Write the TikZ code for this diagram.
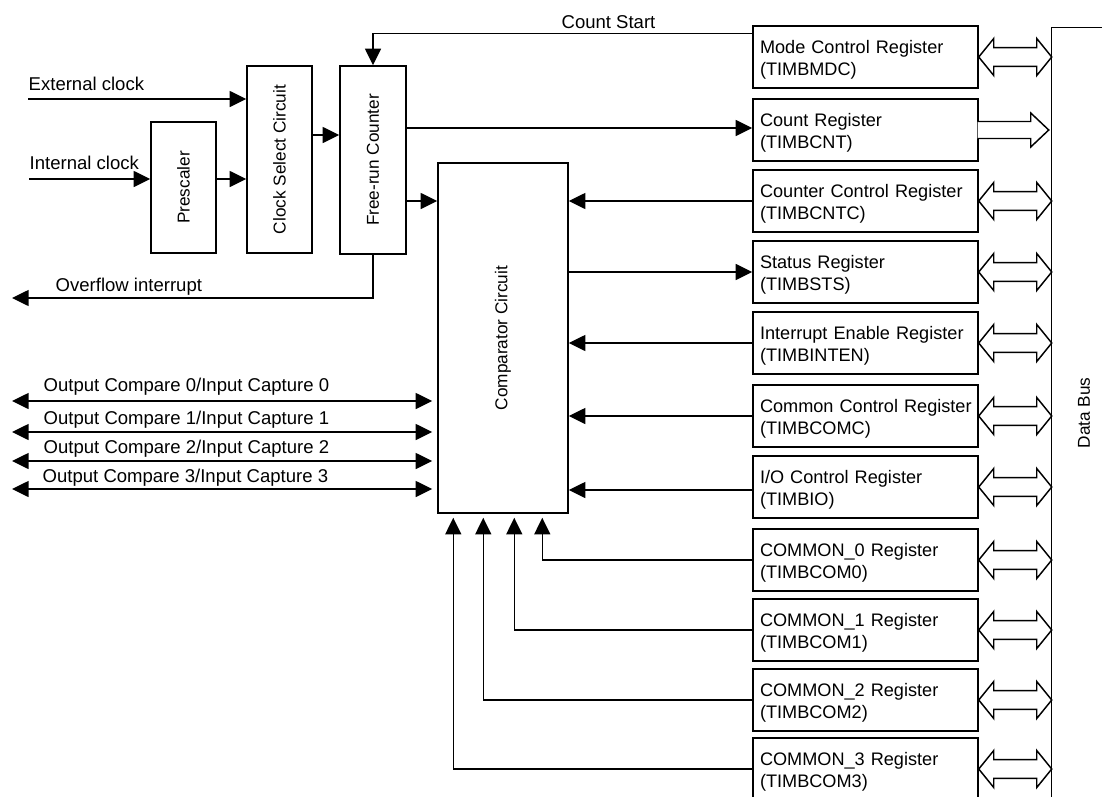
\documentclass[tikz,border=0pt]{standalone}
\usepackage{fontspec}
\setmainfont{Liberation Sans}
\usetikzlibrary{arrows.meta,calc}
\newcommand{\regtxt}[2]{\rule{0pt}{14.4pt}\mbox{#1}\\\mbox{#2}}
\begin{document}
\begin{tikzpicture}[x=0.75pt,y=-0.75pt,
  line width=1.1pt,
  arr/.style={-{Triangle[length=12.5pt,width=12pt]}},
  darr/.style={{Triangle[length=12.5pt,width=12pt]}-{Triangle[length=12.5pt,width=12pt]}},
  box/.style={draw, inner sep=0pt},
  reg/.style={draw, minimum width=168.75pt, minimum height=46.5pt, text width=158.25pt,
    inner xsep=5.25pt, inner ysep=0pt, align=left, font=\fontsize{13.6pt}{16.5pt}\selectfont},
  lbl/.style={inner sep=0pt, font=\fontsize{13.9pt}{16.5pt}\selectfont},
  vlbl/.style={inner sep=0pt, rotate=90, font=\fontsize{12.9pt}{15pt}\selectfont},
  dbl/.pic={\draw[fill=white, line join=miter] (0,0) -- (15,-18.5) -- (15,-9.3) -- (58,-9.3) -- (58,-18.5) -- (73,0) -- (58,18.5) -- (58,9.3) -- (15,9.3) -- (15,18.5) -- cycle;},
  sgl/.pic={\draw[fill=white, line join=miter] (0,-8.5) -- (53,-8.5) -- (53,-17) -- (71,0) -- (53,17) -- (53,8.5) -- (0,8.5);},
]
\useasboundingbox (0,0) rectangle (1102,796);
\clip (0,0) rectangle (1102,796);

% left blocks
\node[box, minimum width=48.75pt, minimum height=98.25pt] (pre) at (183.5,187.5) {};
\node[vlbl] (tpre) at (pre.center) {Prescaler};
\node[box, minimum width=48.75pt, minimum height=140.25pt] (csc) at (279.5,159.5) {};
\node[vlbl] (tcsc) at (csc.center) {Clock Select Circuit};
\node[box, minimum width=49.5pt, minimum height=141pt] (frc) at (373,160) {};
\node[vlbl] (tfrc) at (frc.center) {Free-run Counter};
\node[box, minimum width=97.5pt, minimum height=262.5pt] (cmp) at (503,338) {};
\node[vlbl] (tcmp) at (cmp.center) {Comparator Circuit};

% registers
\node[reg] (mdc) at (865.5,57) {\regtxt{Mode Control Register}{(TIMBMDC)}};
\node[reg] (cnt) at (865.5,130) {\regtxt{Count Register}{(TIMBCNT)}};
\node[reg] (cntc) at (865.5,201) {\regtxt{Counter Control Register}{(TIMBCNTC)}};
\node[reg] (sts) at (865.5,272) {\regtxt{Status Register}{(TIMBSTS)}};
\node[reg] (inten) at (865.5,343) {\regtxt{Interrupt Enable Register}{(TIMBINTEN)}};
\node[reg] (comc) at (865.5,416) {\regtxt{Common Control Register}{(TIMBCOMC)}};
\node[reg] (io) at (865.5,487) {\regtxt{I/O Control Register}{(TIMBIO)}};
\node[reg] (c0) at (865.5,560) {\regtxt{COMMON\_0 Register}{(TIMBCOM0)}};
\node[reg] (c1) at (865.5,630) {\regtxt{COMMON\_1 Register}{(TIMBCOM1)}};
\node[reg] (c2) at (865.5,700) {\regtxt{COMMON\_2 Register}{(TIMBCOM2)}};
\node[reg] (c3) at (865.5,769) {\regtxt{COMMON\_3 Register}{(TIMBCOM3)}};

% data bus
\node[draw, anchor=north west, minimum width=112.5pt, minimum height=600pt, inner sep=0pt] (bus) at (1051,27) {};
\node[vlbl] (tbus) at (1084,413) {Data Bus};

% bus arrows
\foreach \r in {mdc,cntc,sts,inten,comc,io,c0,c1,c2,c3} {
  \pic at (\r.east) {dbl};
}
\pic at ($(cnt.east)+(-1,0)$) {sgl};

% free ends
\coordinate (ext) at (28,99);
\coordinate (int) at (29,179);
\coordinate (ovf) at (12,298);
\coordinate (o0) at (12,401);
\coordinate (o1) at (12,432);
\coordinate (o2) at (12,461);
\coordinate (o3) at (12,489);

% texts
\node[lbl, anchor=base] (tcs) at (608.5,28) {Count Start};
\node[lbl, anchor=base west] (text) at (28,90) {External clock};
\node[lbl, anchor=base west] (tint) at (29,169) {Internal clock};
\node[lbl, anchor=base west] (tovf) at (55,291) {Overflow interrupt};
\node[lbl, anchor=base west] (to0) at (43,391) {Output Compare 0/Input Capture 0};
\node[lbl, anchor=base west] (to1) at (43,424) {Output Compare 1/Input Capture 1};
\node[lbl, anchor=base west] (to2) at (43,453) {Output Compare 2/Input Capture 2};
\node[lbl, anchor=base west] (to3) at (42,482) {Output Compare 3/Input Capture 3};

% connectors
\draw[arr] ($(mdc.north west)+(0,8)$) -| (frc.north);
\draw[arr] (ext) -- (csc.west |- ext);
\draw[arr] (int) -- (pre.west |- int);
\draw[arr] (pre.east |- int) -- (csc.west |- int);
\draw[arr] (csc.east |- 0,135) -- (frc.west |- 0,135);
\draw[arr] (frc.east |- 0,128) -- (cnt.west |- 0,128);
\draw[arr] (frc.east |- cntc.west) -- (cmp.west |- cntc.west);
\draw[arr] (frc.south) |- (ovf);

\draw[arr] (cntc.west) -- (cmp.east |- cntc.west);
\draw[arr] (cmp.east |- sts.west) -- (sts.west);
\draw[arr] (inten.west) -- (cmp.east |- inten.west);
\draw[arr] (comc.west) -- (cmp.east |- comc.west);
\draw[arr] (io.west |- 0,490) -- (cmp.east |- 0,490);

\draw[arr, shorten >=3pt] (c0.west) -| ($(cmp.south west)+(105,0)$);
\draw[arr, shorten >=3pt] (c1.west) -| ($(cmp.south west)+(77,0)$);
\draw[arr, shorten >=3pt] (c2.west) -| ($(cmp.south west)+(46,0)$);
\draw[arr, shorten >=3pt] (c3.west) -| ($(cmp.south west)+(16,0)$);

\draw[darr, shorten >=3.75pt] (o0) -- (cmp.west |- o0);
\draw[darr, shorten >=3.75pt] (o1) -- (cmp.west |- o1);
\draw[darr, shorten >=3.75pt] (o2) -- (cmp.west |- o2);
\draw[darr, shorten >=3.75pt] (o3) -- (cmp.west |- o3);
\end{tikzpicture}
\end{document}
